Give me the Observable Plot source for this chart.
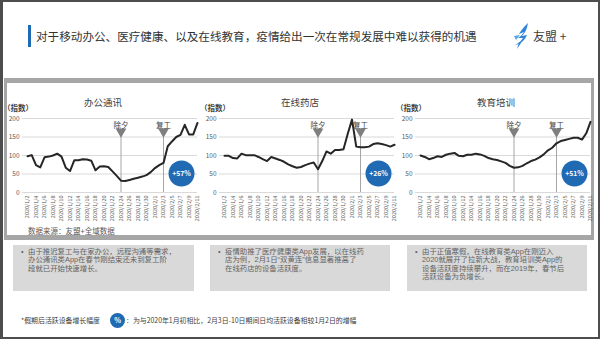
<!DOCTYPE html>
<html><head><meta charset="utf-8">
<script src="https://cdn.jsdelivr.net/npm/d3@7"></script>
<script src="https://cdn.jsdelivr.net/npm/@observablehq/plot@0.6"></script>
<style>
html,body{margin:0;padding:0;background:#fff;}
#page{position:relative;width:600px;height:339px;overflow:hidden;font-family:"Noto Sans CJK SC","Noto Sans",sans-serif;color:#404040;background:#fff;}
.abs{position:absolute;white-space:nowrap;}
#frame{position:absolute;left:0;top:0;width:600px;height:339px;box-sizing:border-box;border:2px solid #4d4d4d;border-left-width:3px;pointer-events:none;z-index:10;}
#panel{position:absolute;left:4px;top:78px;width:590px;height:162px;box-sizing:border-box;border:3px solid #a6a6a6;border-top-width:5px;border-bottom-width:5px;}
.box{position:absolute;top:245px;height:46px;background:#d9d9d9;color:#636363;font-family:"Liberation Sans","Noto Sans CJK SC",sans-serif;}
.box .b{position:absolute;left:8px;top:3px;font-size:7.4px;line-height:8px;}
.box .ln{position:absolute;left:15px;font-size:7.4px;line-height:8px;height:8px;white-space:nowrap;}
.ptitle{position:absolute;top:96px;width:120px;text-align:center;font-size:9.5px;color:#404040;line-height:12px;}
.unit{position:absolute;top:103px;font-size:7.5px;font-weight:600;color:#404040;line-height:10px;}
.chart{position:absolute;top:112px;}
</style></head>
<body>
<div id="page">
  <div class="abs" style="left:28px;top:25px;width:3px;height:22px;background:#1f6ab2;"></div>
  <div class="abs" id="title" style="left:36px;top:29px;font-size:11.6px;line-height:14px;color:#333;"></div>
  <svg class="abs" style="left:513px;top:23px;" width="18" height="26" viewBox="0 0 18 26">
    <path d="M15 0 C11 4 8 7 6 11 L11 9 C9 12 7 14 5 15 L10 15 C8 18 6 20 2 22 C8 21 12 17 14 12 L9 13 C12 10 14 6 15 0 Z" fill="#2f86d8"/>
    <path d="M1 13 L7 12 L3 17 Z" fill="#5aa5ea"/>
    <path d="M6 19 L4 26 L8 20 Z" fill="#2f86d8"/>
  </svg>
  <div class="abs" id="logo" style="left:533px;top:29px;font-size:12px;line-height:14px;color:#404040;"></div>
  <div id="panel"></div>
  <div id="charts"></div>
  <div class="abs" id="source" style="left:28px;top:226px;font-size:7.5px;line-height:10px;color:#595959;"></div>
  <div id="boxes"></div>
  <div class="abs" id="foot1" style="left:21px;top:316px;font-size:6.9px;line-height:9px;color:#404040;"></div>
  <div class="abs" style="left:110px;top:313px;width:15px;height:15px;border-radius:50%;background:#1f6ab2;color:#fff;font-size:7px;font-weight:bold;line-height:15px;text-align:center;">%</div>
  <div class="abs" id="foot2" style="left:126px;top:316px;font-size:6.9px;line-height:9px;color:#404040;"></div>
  <div id="frame"></div>
</div>
<script>
// ---------- data ----------
const mainTitle = "对于移动办公、医疗健康、以及在线教育，疫情给出一次在常规发展中难以获得的机遇";
const logoText = "友盟 +";
const panelTitles = ["办公通讯", "在线药店", "教育培训"];
const unitLabel = "（指数）";
const growthLabels = ["+57%", "+26%", "+51%"];
const eventLabels = ["除夕", "复工"];
const eventDates = ["2020-01-24", "2020-02-03"];
const dates = [
  "2020-01-02","2020-01-03","2020-01-04","2020-01-05","2020-01-06","2020-01-07","2020-01-08","2020-01-09","2020-01-10","2020-01-11",
  "2020-01-12","2020-01-13","2020-01-14","2020-01-15","2020-01-16","2020-01-17","2020-01-18","2020-01-19","2020-01-20","2020-01-21",
  "2020-01-22","2020-01-23","2020-01-24","2020-01-25","2020-01-26","2020-01-27","2020-01-28","2020-01-29","2020-01-30","2020-01-31",
  "2020-02-01","2020-02-02","2020-02-03","2020-02-04","2020-02-05","2020-02-06","2020-02-07","2020-02-08","2020-02-09","2020-02-10","2020-02-11"
];
const office = [98,101,74,68,95,97,100,105,97,67,58,87,87,90,89,86,60,70,71,69,57,45,32,31,34,37,40,43,47,55,66,74,80,125,138,150,156,183,157,157,188];
const pharmacy = [99,99,93,92,105,101,101,101,96,90,85,96,92,88,83,76,71,67,69,74,78,81,63,85,111,105,115,115,117,159,197,124,122,122,124,131,133,131,128,124,129];
const education = [100,96,90,93,98,96,102,105,107,99,98,102,102,105,103,99,93,90,88,84,80,72,67,68,72,79,85,89,95,103,114,121,133,139,142,145,148,148,143,160,191];
const tickLabels = ["2020/1/2","2020/1/4","2020/1/6","2020/1/8","2020/1/10","2020/1/12","2020/1/14","2020/1/16","2020/1/18","2020/1/20",
  "2020/1/22","2020/1/24","2020/1/26","2020/1/28","2020/1/30","2020/2/1","2020/2/3","2020/2/5","2020/2/7","2020/2/9","2020/2/11"];
const yTicks = [0, 50, 100, 150, 200];
const sourceText = "数据来源：友盟+全域数据";
const boxLines = [
  ["由于推迟复工与在家办公，远程沟通等需求，", "办公通讯类App在春节刚结束还未到复工阶", "段就已开始快速增长。"],
  ["疫情助推了医疗健康类App发展，以在线药", "店为例，2月1日“双黄连”信息显著推高了", "在线药店的设备活跃度。"],
  ["由于正值寒假，在线教育类App在刚迈入", "2020就展开了拉新大战，教育培训类App的", "设备活跃度持续攀升，而在2019年，春节后", "活跃设备为负增长。"]
];
const footPart1 = "*假期后活跃设备增长幅度";
const footPart2 = "：为与2020年1月初相比，2月3日-10日期间日均活跃设备相较1月2日的增幅";

// ---------- layout ----------
const chartLefts = [0, 197, 393];
const boxLefts = [13, 210, 407];
const boxWidths = [181, 180, 180];
const font = '"Noto Sans CJK SC", "Noto Sans", sans-serif';

document.getElementById("title").textContent = mainTitle;
document.getElementById("logo").textContent = logoText;
document.getElementById("source").textContent = sourceText;
document.getElementById("foot1").textContent = footPart1;
document.getElementById("foot2").textContent = footPart2;

const parseDate = d3.utcParse("%Y-%m-%d");
const parseTick = d3.utcParse("%Y/%-m/%-d");
const fmtTick = d3.utcFormat("%Y/%-m/%-d");
const series = [office, pharmacy, education];
const tickDates = tickLabels.map(parseTick);
const evts = eventDates.map((d, i) => ({date: parseDate(d), label: eventLabels[i]}));

const charts = document.getElementById("charts");
series.forEach((vals, k) => {
  const data = vals.map((v, i) => ({date: parseDate(dates[i]), value: v}));
  const left = chartLefts[k];
  const t = document.createElement("div");
  t.className = "ptitle"; t.style.left = (left + 103 - 60) + "px"; t.textContent = panelTitles[k];
  charts.appendChild(t);
  const u = document.createElement("div");
  u.className = "unit"; u.style.left = (left + 3) + "px"; u.textContent = unitLabel;
  charts.appendChild(u);
  const p = Plot.plot({
    width: 200, height: 114,
    marginTop: 6, marginBottom: 34, marginLeft: 22, marginRight: 3,
    x: {type: "utc", domain: [parseDate(dates[0]), parseDate(dates[dates.length - 1])], insetLeft: 5},
    y: {domain: [0, 200]},
    style: {fontFamily: font, background: "transparent", overflow: "visible", color: "#595959"},
    marks: [
      Plot.gridY(yTicks, {stroke: "#d9d9d9", strokeOpacity: 1}),
      Plot.axisY(yTicks, {tickSize: 0, tickPadding: 3, fontSize: 6.5, fill: "#595959", label: null}),
      Plot.axisX(tickDates, {tickSize: 0, tickPadding: 3, tickRotate: -90, fontSize: 5.5, fill: "#595959", tickFormat: fmtTick, label: null}),
      Plot.ruleX(evts, {x: "date", stroke: "#a6a6a6", strokeWidth: 1, insetTop: 17}),
      Plot.line(data, {x: "date", y: "value", stroke: "#262626", strokeWidth: 2, curve: "linear"}),
      Plot.dot(evts, {x: "date", frameAnchor: "top", dy: 13, symbol: "triangle", rotate: 180, r: 4, fill: "#7f7f7f", stroke: "none"}),
      Plot.text(evts, {x: "date", text: "label", frameAnchor: "top", dy: 4.5, fontSize: 7.5, fill: "#404040"}),
      Plot.dot([growthLabels[k]], {frameAnchor: "bottom-right", dx: -16, dy: -19, r: 13, fill: "#1f6ab2", stroke: "none"}),
      Plot.text([growthLabels[k]], {frameAnchor: "bottom-right", dx: -16, dy: -19, text: d => d, fill: "#fff", fontSize: 6.8, fontWeight: "bold", textAnchor: "middle", lineAnchor: "middle"})
    ]
  });
  p.classList.add("chart");
  p.style.left = left + "px";
  charts.appendChild(p);
});

const boxes = document.getElementById("boxes");
boxLines.forEach((lines, k) => {
  const b = document.createElement("div");
  b.className = "box"; b.style.left = boxLefts[k] + "px"; b.style.width = boxWidths[k] + "px";
  const bul = document.createElement("div"); bul.className = "b"; bul.textContent = "•";
  b.appendChild(bul);
  lines.forEach((l, i) => {
    const ln = document.createElement("div");
    ln.className = "ln"; ln.style.top = (3 + i * 8.4) + "px"; ln.textContent = l;
    b.appendChild(ln);
  });
  boxes.appendChild(b);
});
</script>
</body></html>
